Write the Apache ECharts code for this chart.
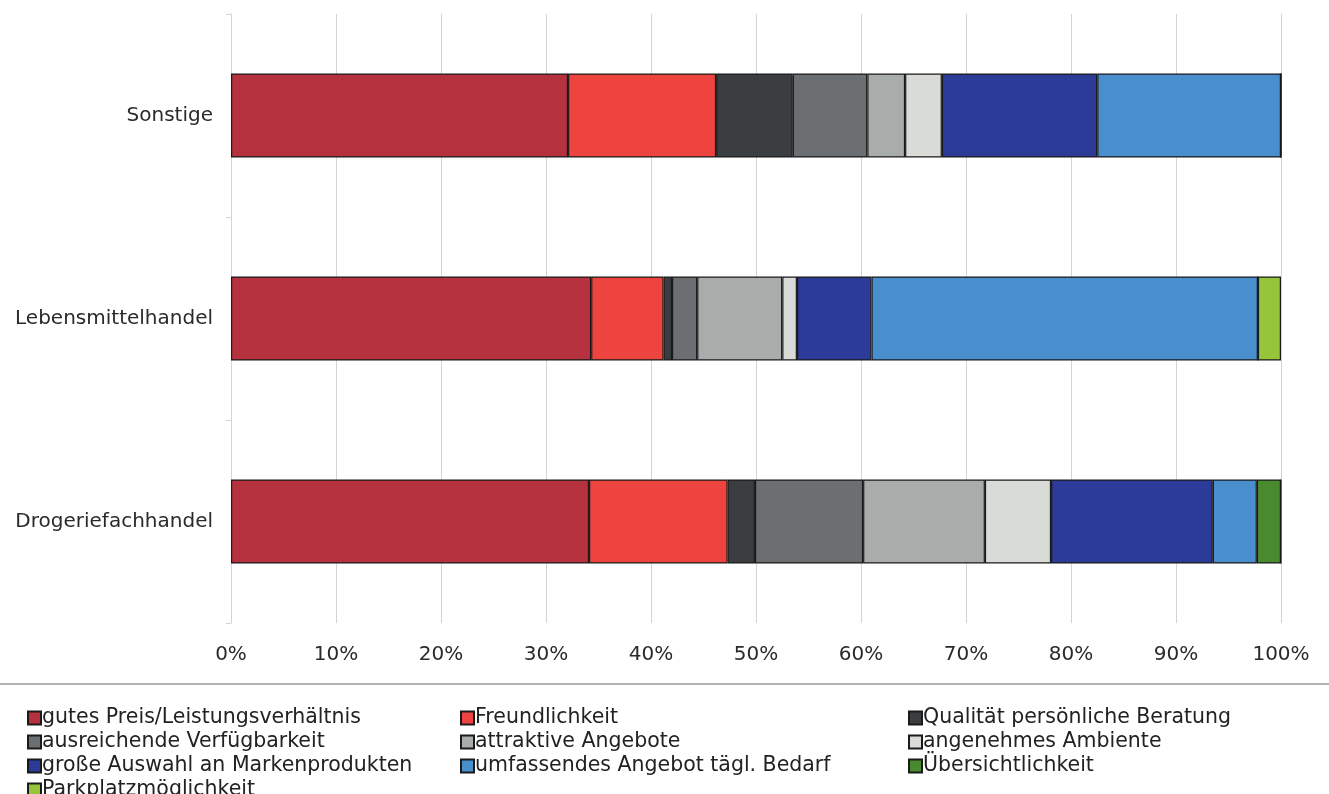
<!DOCTYPE html>
<html>
<head>
<meta charset="utf-8">
<script src="https://cdn.jsdelivr.net/npm/echarts@6/dist/echarts.min.js"></script>
<style>html,body{margin:0;padding:0;background:#fff;}#c{width:1329px;height:794px;}</style>
</head>
<body>
<div id="c"></div>
<script>
const categories = ['Sonstige', 'Lebensmittelhandel', 'Drogeriefachhandel'];
const xTicks = ['0%','10%','20%','30%','40%','50%','60%','70%','80%','90%','100%'];
const seriesNames = [
  'gutes Preis/Leistungsverhältnis', 'Freundlichkeit', 'Qualität persönliche Beratung',
  'ausreichende Verfügbarkeit', 'attraktive Angebote', 'angenehmes Ambiente',
  'große Auswahl an Markenprodukten', 'umfassendes Angebot tägl. Bedarf', 'Übersichtlichkeit',
  'Parkplatzmöglichkeit'
];
const preisLeistung   = [32.1, 34.3, 34.1];
const freundlichkeit  = [14.1, 6.9, 13.2];
const beratung        = [7.3, 0.8, 2.6];
const verfuegbarkeit  = [7.1, 2.4, 10.3];
const angebote        = [3.6, 8.1, 11.6];
const ambiente        = [3.5, 1.4, 6.3];
const markenAuswahl   = [14.8, 7.1, 15.4];
const taeglBedarf     = [17.5, 36.8, 4.2];
const uebersicht      = [0, 0, 2.3];
const parkplatz       = [0, 2.2, 0];
const seriesValues = [preisLeistung, freundlichkeit, beratung, verfuegbarkeit, angebote,
  ambiente, markenAuswahl, taeglBedarf, uebersicht, parkplatz];
const colors = ['#b5313d', '#ee4440', '#3a3e40', '#6c6f71', '#a8acaa', '#d8dbd6',
  '#2c3a98', '#4a8fcd', '#4a8a2e', '#96c43a'];

const FONT = 'DejaVu Sans';
const chart = echarts.init(document.getElementById('c'));
const legendBase = {
  orient: 'vertical', icon: 'rect', itemWidth: 13, itemHeight: 13, itemGap: 0,
  textStyle: { fontFamily: FONT, fontSize: 20.5, lineHeight: 24, color: '#222', padding: [0, 0, 0, -4] },
  selectedMode: false, top: 706, padding: 0
};
chart.setOption({
  animation: false,
  textStyle: { fontFamily: FONT },
  grid: { left: 231, right: 48, top: 14, bottom: 171 },
  xAxis: {
    type: 'value', min: 0, max: 100, interval: 10,
    axisLabel: { formatter: v => xTicks[Math.round(v / 10)], fontSize: 20, color: '#2a2a2a', margin: 22, fontFamily: FONT },
    splitLine: { show: true, lineStyle: { color: '#d4d4d4' } },
    axisLine: { show: false }, axisTick: { show: false }
  },
  yAxis: {
    type: 'category', data: categories, inverse: true,
    axisLabel: { fontSize: 20, color: '#2a2a2a', margin: 18, fontFamily: FONT },
    axisLine: { show: true, lineStyle: { color: '#d4d4d4' } },
    axisTick: { show: true, length: 5, lineStyle: { color: '#d4d4d4' } }
  },
  legend: [
    Object.assign({}, legendBase, { left: 27, data: [seriesNames[0], seriesNames[3], seriesNames[6]] }),
    Object.assign({}, legendBase, { left: 27, top: 778, data: [seriesNames[9]] }),
    Object.assign({}, legendBase, { left: 460, data: [seriesNames[1], seriesNames[4], seriesNames[7]] }),
    Object.assign({}, legendBase, { left: 908, data: [seriesNames[2], seriesNames[5], seriesNames[8]] })
  ],
  graphic: [{
    type: 'line', shape: { x1: 0, y1: 684, x2: 1329, y2: 684 },
    style: { stroke: '#9a9a9a', lineWidth: 1.5 }
  }],
  series: seriesNames.map((name, i) => ({
    name, type: 'bar', stack: 'total', barWidth: 84,
    data: seriesValues[i],
    itemStyle: { color: colors[i], borderColor: '#1a1a1a', borderWidth: 1.2 },
    emphasis: { disabled: true }
  }))
});
</script>
</body>
</html>
